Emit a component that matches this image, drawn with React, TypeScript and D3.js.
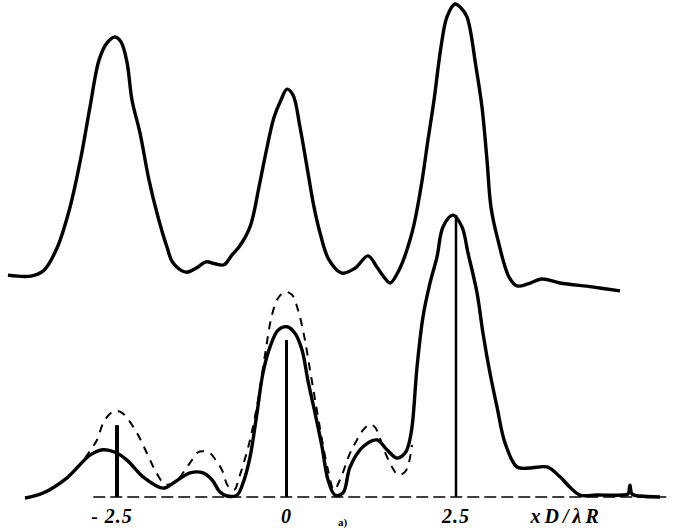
import React from "react";
import * as d3 from "d3";

// x in units of xD/λR, intensity in arbitrary units (0..100)
const topX = [-4.108,-3.768,-3.577,-3.385,-3.193,-3.031,-2.898,-2.765,-2.647,-2.529,-2.441,-2.353,-2.279,-2.161,-2.028,-1.895,-1.763,-1.674,-1.482,-1.335,-1.187,-1.055,-0.922,-0.804,-0.701,-0.538,-0.406,-0.317,-0.184,-0.081,0.007,0.096,0.199,0.302,0.406,0.494,0.627,0.819,1.010,1.202,1.335,1.438,1.527,1.659,1.851,1.984,2.087,2.176,2.279,2.367,2.485,2.574,2.662,2.795,2.883,2.957,3.016,3.119,3.282,3.400,3.562,3.768,4.034,4.506,4.919];
const topY = [45.1,44.9,46.1,50.6,58.9,69.1,79.3,88.8,92.3,93.5,92.5,88.4,80.7,74.0,64.4,56.9,50.8,47.6,45.7,46.5,47.8,47.4,47.2,49.2,50.8,54.9,63.0,69.1,77.2,80.7,82.9,81.7,75.2,67.1,58.9,53.7,48.2,45.5,46.5,49.0,46.7,44.7,43.5,46.1,53.7,63.0,72.6,80.7,91.5,97.6,100.2,99.4,97.6,87.4,79.3,68.5,58.9,52.2,44.7,42.9,43.3,44.3,43.5,42.7,41.9];

const solidX = [-3.857,-3.591,-3.237,-2.898,-2.706,-2.529,-2.353,-2.116,-1.822,-1.674,-1.423,-1.232,-1.099,-0.981,-0.878,-0.730,-0.642,-0.538,-0.435,-0.347,-0.243,-0.125,0.007,0.125,0.229,0.317,0.420,0.524,0.612,0.715,0.833,0.937,1.128,1.335,1.482,1.630,1.748,1.792,1.851,1.925,2.013,2.117,2.220,2.308,2.456,2.588,2.677,2.810,2.898,3.001,3.105,3.223,3.400,3.591,3.842,4.034,4.181,4.329,4.580,4.948,5.037,5.066,5.096,5.214,5.509];
const solidY = [-0.2,0.8,3.9,8.5,9.6,9.1,7.5,4.1,1.8,2.8,4.9,4.9,3.5,1.0,0.2,0.4,2.8,8.1,17.1,25.2,30.5,33.9,34.6,33.3,29.9,23.6,17.1,10.2,3.5,0.4,0.8,6.1,10.2,11.6,9.6,7.9,8.9,10.2,14.2,26.4,36.6,43.5,48.8,54.9,57.3,54.9,49.6,41.5,33.3,25.2,18.3,11.0,6.1,5.9,6.1,4.1,2.0,0.4,0.4,0.4,0.6,2.4,0.6,0.2,0.0];

const dashX = [-2.972,-2.795,-2.706,-2.603,-2.515,-2.426,-2.353,-2.205,-2.058,-1.940,-1.792,-1.645,-1.468,-1.394,-1.305,-1.232,-1.128,-1.025,-0.951,-0.863,-0.774,-0.686,-0.538,-0.420,-0.317,-0.214,-0.125,-0.022,0.081,0.170,0.258,0.347,0.435,0.524,0.612,0.701,0.789,0.937,1.040,1.128,1.232,1.305,1.350,1.438,1.556,1.645,1.748,1.807,1.851];
const dashY = [7.9,11.6,15.0,16.9,17.5,17.1,16.1,13.0,8.9,5.5,2.6,3.0,6.1,7.5,9.1,9.3,8.9,7.1,5.5,2.2,1.4,4.5,11.6,19.7,28.9,37.0,40.4,41.7,41.1,38.0,32.9,25.8,18.7,11.6,5.5,1.4,3.5,8.9,11.6,13.6,14.8,14.2,13.0,9.6,6.1,4.5,5.1,7.1,10.6];

const barX = [-2.5, 0, 2.5];
const barY = [14.6, 31.9, 57.3];

const tickVals = [-2.5, 0, 2.5];
const tickLabels = ["- 2.5", "0", "2.5"];
const axisTitle = "xD/λR";
const panelLabel = "a)";

export default function App() {
  const W = 684, H = 531;
  const x = d3.scaleLinear().domain([-2.5, 2.5]).range([117, 456]);
  const y = d3.scaleLinear().domain([0, 100]).range([497, 5]);
  const line = d3
    .line<[number, number]>()
    .x((d) => x(d[0]))
    .y((d) => y(d[1]))
    .curve(d3.curveCatmullRom.alpha(0.5));
  const topPts = topX.map((v, i) => [v, topY[i]] as [number, number]);
  const solidPts = solidX.map((v, i) => [v, solidY[i]] as [number, number]);
  const dashPts = dashX.map((v, i) => [v, dashY[i]] as [number, number]);
  const barW = [4, 3, 2.5];
  const font = "Liberation Serif, serif";
  return (
    <svg
      width={W}
      height={H}
      style={{ position: "fixed", left: 0, top: 0, background: "#fff" }}
    >
      <rect x={0} y={0} width={W} height={H} fill="#fff" />
      <line
        x1={x(-2.85)}
        x2={x(5.65)}
        y1={y(0)}
        y2={y(0)}
        stroke="#000"
        strokeWidth={1.5}
        strokeDasharray="12 5"
      />
      <path d={line(dashPts) || ""} fill="none" stroke="#000" strokeWidth={2} strokeDasharray="8 7" />
      <path d={line(solidPts) || ""} fill="none" stroke="#000" strokeWidth={3.4} strokeLinejoin="round" />
      <path d={line(topPts) || ""} fill="none" stroke="#000" strokeWidth={3.4} strokeLinejoin="round" />
      {barX.map((b, i) => (
        <line key={i} x1={x(b)} x2={x(b)} y1={y(0)} y2={y(barY[i])} stroke="#000" strokeWidth={barW[i]} />
      ))}
      {tickVals.map((t, i) => (
        <text
          key={i}
          x={x(t) - (i === 0 ? 5 : 0)}
          y={523}
          textAnchor="middle"
          fontFamily={font}
          fontStyle="italic"
          fontWeight="bold"
          fontSize={20}
          letterSpacing={1}
        >
          {tickLabels[i]}
        </text>
      ))}
      <text
        x={x(3.6)}
        y={523}
        textAnchor="start"
        fontFamily={font}
        fontStyle="italic"
        fontWeight="bold"
        fontSize={20}
        letterSpacing={4}
      >
        {axisTitle}
      </text>
      <text x={338} y={526} fontFamily={font} fontWeight="bold" fontSize={11}>
        {panelLabel}
      </text>
    </svg>
  );
}
